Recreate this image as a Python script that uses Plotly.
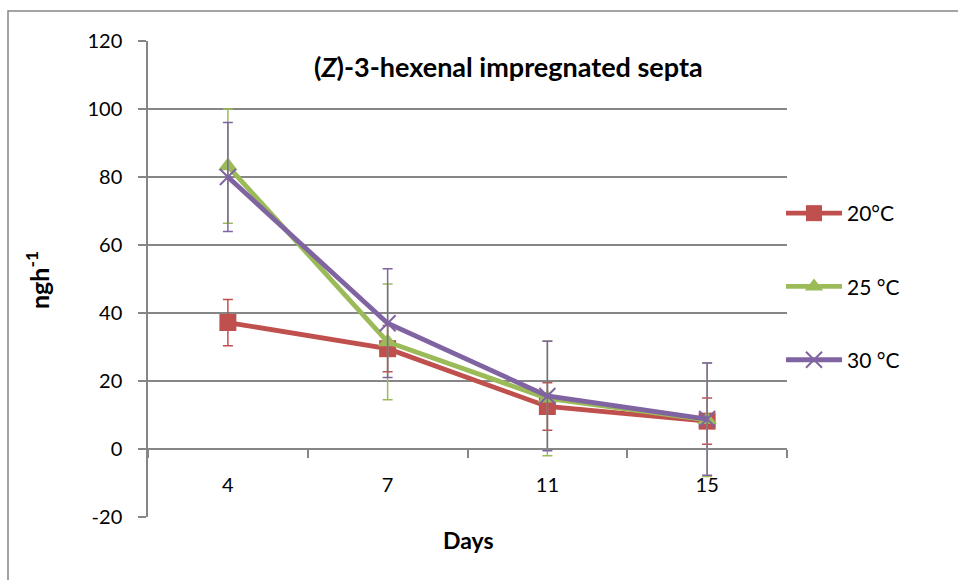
import plotly.graph_objects as go

# Release rates of (Z)-3-hexenal from impregnated septa
days = ["4", "7", "11", "15"]

t20 = [37.2, 29.5, 12.5, 8.2]
t20_err = [6.8, 6.8, 7.0, 6.8]

t25 = [83.2, 31.5, 14.9, 8.6]
t25_err = [16.8, 17.0, 16.9, 16.7]

t30 = [80.0, 37.0, 15.6, 8.8]
t30_err = [16.0, 16.0, 16.1, 16.5]

y_ticks = [-20, 0, 20, 40, 60, 80, 100, 120]
y_tick_text = [str(v) for v in y_ticks]

FONT = "Lato"
GRID = "#868686"

series = [
    ("20°C", t20, t20_err, "#C0504D", dict(symbol="square", size=17)),
    ("25 °C", t25, t25_err, "#9BBB59", dict(symbol="triangle-up", size=17)),
    ("30 °C", t30, t30_err, "#8064A2",
     dict(symbol="x-thin", size=16, line=dict(width=2, color="#8064A2"))),
]

fig = go.Figure()
for name, vals, errs, color, marker in series:
    fig.add_trace(go.Scatter(
        x=days, y=vals, name=name, mode="lines+markers",
        legendgroup=name,
        line=dict(color=color, width=4.8),
        marker=dict(color=color, **marker),
        error_y=dict(type="data", array=errs, visible=True,
                     color=color, thickness=1.5, width=5),
    ))

# plot area in pixels: x 148..787, y 41..517
L, R, T, B = 148, 787, 41, 517
W, H = 958, 580
pw, ph = R - L, B - T


def px_x(p):
    return (p - L) / pw


def px_y(p):
    return (B - p) / ph


fig.update_layout(
    width=W, height=H,
    margin=dict(l=L, r=W - R, t=T, b=H - B, pad=0),
    paper_bgcolor="white", plot_bgcolor="white",
    font=dict(family=FONT, size=20, color="black"),
    showlegend=True,
    legend=dict(x=px_x(781), y=px_y(193), xanchor="left", yanchor="top",
                tracegroupgap=43, font=dict(size=21, family=FONT),
                bgcolor="rgba(0,0,0,0)", itemwidth=56),
    xaxis=dict(
        type="category", categoryorder="array", categoryarray=days,
        range=[-0.5, 3.5], autorange=False,
        anchor="free", position=20 / 140,
        showline=True, linecolor=GRID, linewidth=1.5,
        ticks="outside", tickson="boundaries", ticklen=8, tickcolor=GRID,
        tickwidth=1.5, showgrid=False, zeroline=False,
        tickfont=dict(size=20, family=FONT),
        ticklabelstandoff=18,
    ),
    yaxis=dict(
        range=[-20, 120], autorange=False,
        tickvals=y_ticks, ticktext=y_tick_text,
        showline=True, linecolor=GRID, linewidth=1.5,
        ticks="outside", ticklen=8, tickcolor=GRID, tickwidth=1.5,
        showgrid=True, gridcolor=GRID, gridwidth=1.5, zeroline=False,
        tickfont=dict(size=20, family=FONT),
        ticklabelstandoff=12,
    ),
    shapes=[
        # chart border
        dict(type="rect", xref="paper", yref="paper",
             x0=px_x(8), x1=px_x(975), y0=px_y(600), y1=px_y(11),
             line=dict(color=GRID, width=1.5), fillcolor="rgba(0,0,0,0)",
             layer="below"),
    ],
    annotations=[
        dict(text="<b>(<i>Z</i>)-3-hexenal impregnated septa</b>",
             xref="paper", yref="paper", x=px_x(508), y=px_y(66),
             xanchor="center", yanchor="middle", showarrow=False,
             font=dict(size=27, family=FONT)),
        dict(text="<b>ngh<sup>-1</sup></b>",
             xref="paper", yref="paper", x=px_x(37), y=px_y(280),
             xanchor="center", yanchor="middle", showarrow=False,
             textangle=-90, font=dict(size=25, family=FONT)),
        dict(text="<b>Days</b>",
             xref="paper", yref="paper", x=px_x(468), y=px_y(540),
             xanchor="center", yanchor="middle", showarrow=False,
             font=dict(size=23, family=FONT)),
    ],
)

fig.write_html("out.html")
